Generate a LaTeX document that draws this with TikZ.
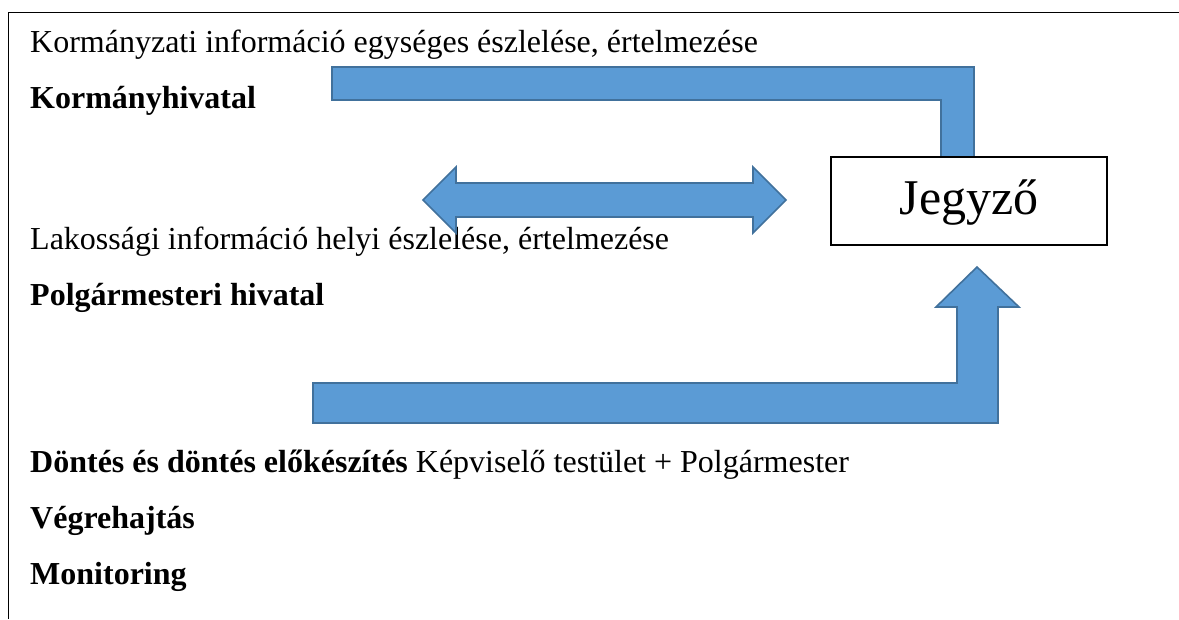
\documentclass[tikz,border=0pt]{standalone}
\usepackage{fontspec}
\setmainfont{Liberation Serif}
\begin{document}
\begin{tikzpicture}[x=1pt,y=-1pt,
  blockarrow/.style={fill=arrowblue,draw=arrowedge,line width=1.6pt,line join=miter},
  txt/.style={anchor=base west,inner sep=0pt,font=\fontsize{32}{38}\selectfont},
  btxt/.style={txt,font=\fontsize{32}{38}\selectfont\bfseries},
  jbox/.style={draw=black,line width=1.2pt,fill=white,minimum width=276pt,minimum height=88pt,inner sep=0pt}]
\definecolor{arrowblue}{HTML}{5B9BD5}
\definecolor{arrowedge}{HTML}{41719C}
\useasboundingbox (0,0) rectangle (1179,619);
% frame
\draw[line width=1pt] (1179,12.5) -- (8.5,12.5) -- (8.5,619);
% texts
\node[txt]  (t1) at (30,52)  {Kormányzati információ egységes észlelése, értelmezése};
\node[btxt] (t2) at (30,108) {Kormányhivatal};
\node[txt]  (t3) at (30,249) {Lakossági információ helyi észlelése, értelmezése};
\node[btxt] (t4) at (30,305) {Polgármesteri hivatal};
\node[txt]  (t5) at (30,472) {\textbf{Döntés és döntés előkészítés} Képviselő testület + Polgármester};
\node[btxt] (t6) at (30,528) {Végrehajtás};
\node[btxt] (t7) at (30,584) {Monitoring};
% top bent arrow
\draw[blockarrow] (332,67) -- (974,67) -- (974,160) -- (941,160) -- (941,100) -- (332,100) -- cycle;
% double arrow
\draw[blockarrow] (423,200) -- (456,167) -- (456,183) -- (753,183) -- (753,167) -- (786,200)
  -- (753,233) -- (753,217) -- (456,217) -- (456,233) -- cycle;
% bottom bent up arrow
\draw[blockarrow] (313,383) -- (957,383) -- (957,307) -- (936,307) -- (977,267) -- (1019,307)
  -- (998,307) -- (998,423) -- (313,423) -- cycle;
% box
\node[jbox] (j) at (969,201) {};
\node[anchor=base,inner sep=0pt,font=\fontsize{50}{60}\selectfont] (jt) at (j.center |- 0,214) {Jegyző};
\end{tikzpicture}
\end{document}
